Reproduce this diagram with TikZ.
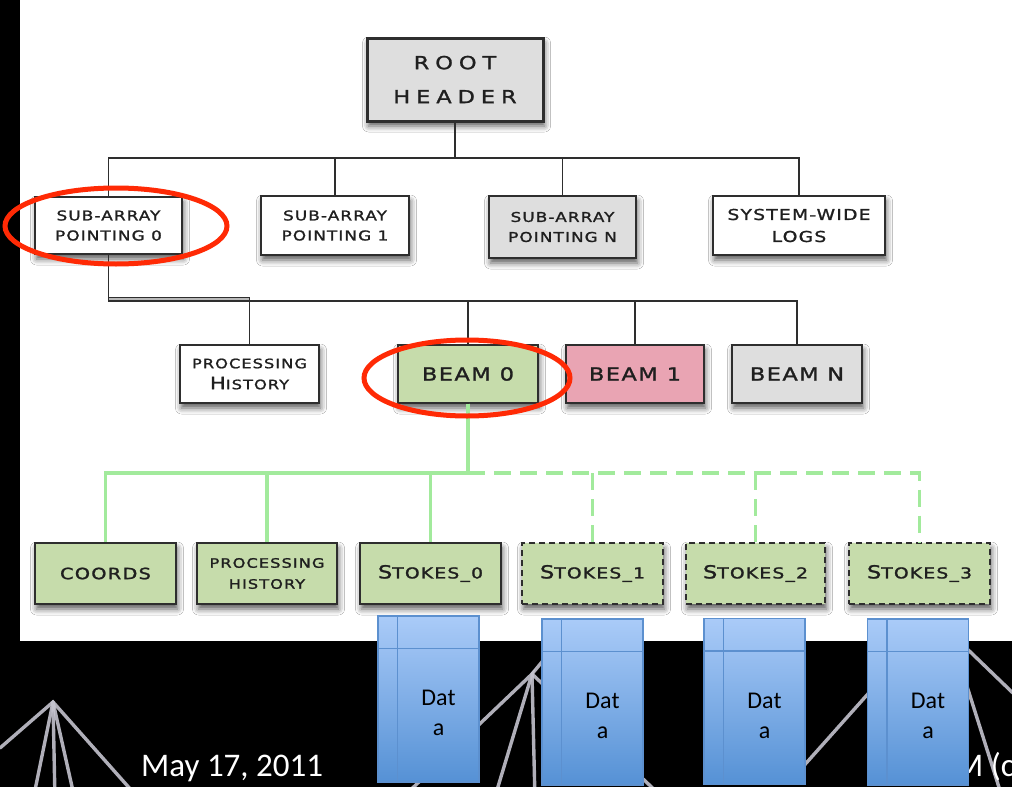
\documentclass[tikz,border=0pt]{standalone}
\usepackage{fontspec}
\setmainfont{Carlito}
\newfontfamily\capsfont{DejaVu Sans}[FakeStretch=1.25,LetterSpace=8,FakeBold=1.4]
\usetikzlibrary{calc,shadows.blur}

\definecolor{boxline}{HTML}{2E2E2E}
\definecolor{greyfill}{HTML}{DEDEDE}
\definecolor{greenfill}{HTML}{C6DCAB}
\definecolor{pinkfill}{HTML}{E9A4B3}
\definecolor{treegreen}{HTML}{A2EA9C}
\definecolor{ringred}{HTML}{FF2A05}
\definecolor{datatop}{HTML}{AACBF8}
\definecolor{databot}{HTML}{5591D5}
\definecolor{dataedge}{HTML}{5C90CF}
\definecolor{antgrey}{HTML}{C4C3CE}

\newcommand{\fs}[2]{\fontsize{#1}{#2}\selectfont}

\tikzset{
  box/.style={draw=boxline, line width=1.4pt, align=center, inner sep=0pt,
    font=\capsfont, text=black!88,
    blur shadow={shadow xshift=1.5pt, shadow yshift=-5pt,
      shadow blur radius=6pt, shadow opacity=65}},
  dashbox/.style={box, dash pattern=on 6pt off 4pt},
  tree/.style={draw=boxline, line width=1.2pt},
  gline/.style={draw=treegreen, line width=3.5pt},
  gdash/.style={gline, dash pattern=on 17pt off 9pt},
  ring/.style={draw=ringred, line width=5pt},
  databox/.style={draw=dataedge, line width=1.3pt, top color=datatop,
    bottom color=databot, minimum width=101pt, minimum height=166pt,
    inner sep=0pt},
  datatext/.style={align=center, font=\fs{24}{30}},
  antenna/.style={draw=antgrey, line width=3.4pt, line cap=round, opacity=0.9},
}

\begin{document}
\begin{tikzpicture}[x=1pt,y=-1pt]
\useasboundingbox (0,0) rectangle (1012,787);
\clip (0,0) rectangle (1012,787);
\fill[black] (0,0) rectangle (1012,787);

% antennas in the dark footer
\draw[antenna] (0,748) -- (53,702) -- (140,800);
\draw[antenna] (53,702) -- (33,800);
\draw[antenna] (53,702) -- (55,800);
\draw[antenna] (53,702) -- (75,800);
\draw[antenna] (400,800) -- (532,674) -- (494,800);
\draw[antenna] (532,674) -- (535,800);
\draw[antenna] (532,674) -- (560,640);
\draw[antenna] (532,674) -- (660,795);
\draw[antenna] (800,770) -- (875,686);
\draw[antenna] (960,642) -- (1015,695);
\draw[antenna] (965,680) -- (1003,800);

% footer texts
\node[anchor=base west, text=white, font=\fs{33}{33}, inner sep=0pt] (date) at (141,776) {May 17, 2011};
\node[anchor=base west, text=white, font=\fs{33}{33}, inner sep=0pt] (footer) at (955,776) {M (c};

% white slide panel
\fill[white] (20,0) rectangle (1012,641);

% level 1
\node[box, fill=greyfill, line width=3pt, minimum width=176pt, minimum height=83pt,
  font=\capsfont\addfontfeature{LetterSpace=33}\fs{18}{34}] (root) at (455,79.5) {ROOT\\HEADER};

\node[box, fill=white, minimum width=147pt, minimum height=57pt, font=\capsfont\fs{13.5}{20}] (p0) at (108.5,225.5) {SUB-ARRAY\\POINTING 0};
\node[box, fill=white, minimum width=148pt, minimum height=59pt, font=\capsfont\fs{13.5}{20}] (p1) at (335,225.5) {SUB-ARRAY\\POINTING 1};
\node[box, fill=greyfill, minimum width=147pt, minimum height=62pt, font=\capsfont\fs{13.5}{20}] (pn) at (562.5,227) {SUB-ARRAY\\POINTING N};
\node[box, fill=white, minimum width=172pt, minimum height=59pt, font=\capsfont\fs{15}{22}] (logs) at (799,225.5) {SYSTEM-WIDE\\LOGS};

% level 2
\node[box, fill=white, minimum width=139pt, minimum height=58pt, font=\capsfont\fs{13}{21}] (ph1) at (249.5,374) {PROCESSING\\{\fs{17}{17}H}ISTORY};
\node[box, fill=greenfill, minimum width=140pt, minimum height=58pt, font=\capsfont\fs{18}{20}] (b0) at (468,374) {BEAM\enspace 0};
\node[box, fill=pinkfill, minimum width=138pt, minimum height=58pt, font=\capsfont\fs{18}{20}] (b1) at (635,374) {BEAM\enspace 1};
\node[box, fill=greyfill, minimum width=130pt, minimum height=58pt, font=\capsfont\fs{18}{20}] (bn) at (797,374) {BEAM N};

% level 3
\node[box, fill=greenfill, minimum width=141pt, minimum height=61pt, font=\capsfont\fs{15.5}{20}] (coords) at (105.5,573.5) {COORDS};
\node[box, fill=greenfill, minimum width=140pt, minimum height=61pt, font=\capsfont\fs{13}{21}] (ph2) at (267,573.5) {PROCESSING\\HISTORY};
\node[box, fill=greenfill, minimum width=141pt, minimum height=61pt, font=\capsfont\fs{18}{20}] (s0) at (430.5,573.5) {S{\fs{15}{20}TOKES\_0}};
\node[dashbox, fill=greenfill, minimum width=141pt, minimum height=61pt, font=\capsfont\fs{18}{20}] (s1) at (592.5,573.5) {S{\fs{15}{20}TOKES\_1}};
\node[dashbox, fill=greenfill, minimum width=139pt, minimum height=61pt, font=\capsfont\fs{18}{20}] (s2) at (755.5,573.5) {S{\fs{15}{20}TOKES\_2}};
\node[dashbox, fill=greenfill, minimum width=141pt, minimum height=61pt, font=\capsfont\fs{18}{20}] (s3) at (919.5,573.5) {S{\fs{15}{20}TOKES\_3}};

% connectors: root to pointings
\coordinate (busA) at (0,158);
\foreach \n in {p0,p1,pn,logs}
  \draw[tree] (root.south) -- (root.south |- busA) -| (\n.north);

% connectors: pointing 0 to beams
\coordinate (busB) at (0,301);
\filldraw[draw=boxline, fill=gray!55, line width=1pt] ($(p0.south |- busB)+(0,-4)$) rectangle (ph1.north |- busB);
\foreach \n in {ph1,b0,b1,bn}
  \draw[tree] (p0.south) |- (\n.north |- busB) -- (\n.north);

% connectors: beam 0 to its datasets
\coordinate (busC) at (0,473);
\foreach \n in {coords,ph2,s0}
  \draw[gline] (b0.south) |- (\n.north |- busC) -- (\n.north);
\draw[gdash] (b0.south |- busC) -| (s3.north);
\foreach \n in {s1,s2}
  \draw[gdash] (\n.north |- busC) -- (\n.north);

% highlight rings
\draw[ring] (116,226) ellipse [x radius=111, y radius=38];
\draw[ring] (467,378) ellipse [x radius=103, y radius=38];

% data tables
\foreach \n/\x/\y in {d0/428.5/699, d1/592.5/702, d2/754.5/701.5, d3/918/702}{
  \node[databox] (\n) at (\x,\y) {};
  \draw[dataedge, line width=1.3pt] ($(\n.north west)+(20,0)$) -- ($(\n.south west)+(20,0)$);
  \draw[dataedge, line width=1.3pt] ($(\n.north west)+(0,33)$) -- ($(\n.north east)+(0,33)$);
  \node[datatext] (\n t) at ($(\n.center)+(10,14)$) {Dat\\a};
}
\end{tikzpicture}
\end{document}
